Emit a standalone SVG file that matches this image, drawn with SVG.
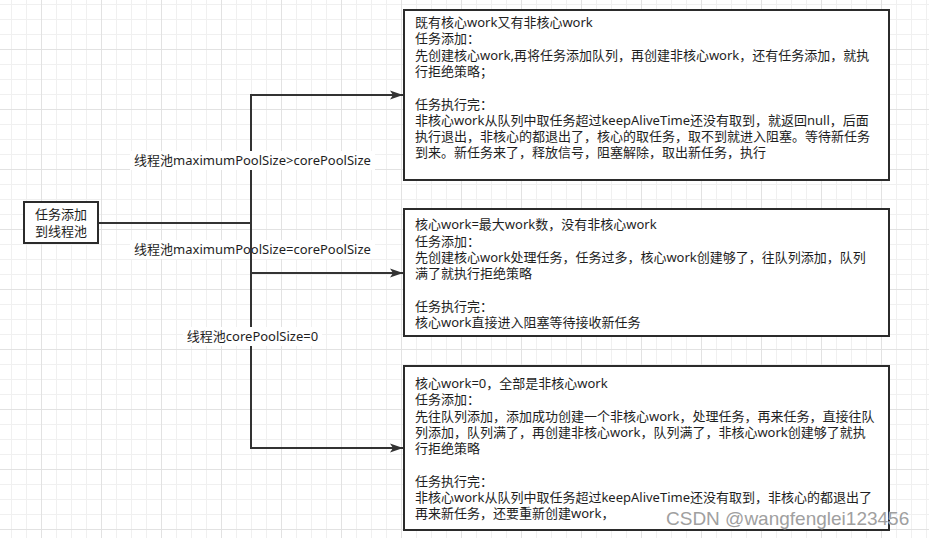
<svg xmlns="http://www.w3.org/2000/svg" width="929" height="538" viewBox="0 0 929 538">
<style>
.box{fill:#fff;stroke:#2b2b2b;stroke-width:2}
.edge{fill:none;stroke:#333;stroke-width:2}
.t{font-family:"Noto Sans","Noto Sans CJK SC",sans-serif;font-size:13px;fill:#1e1e1e}
.lbl{font-family:"Noto Sans","Noto Sans CJK SC",sans-serif;font-size:13px;fill:#1e1e1e;text-anchor:middle}
.lblbg{fill:#fff}
.wm{font-family:"Liberation Sans",Arial,sans-serif;font-size:19px;fill:#a0a0a0;stroke:#fff;stroke-width:0.6;paint-order:stroke}
</style>
<defs>
<pattern id="grid" patternUnits="userSpaceOnUse" x="41" y="49" width="60" height="60">
<rect x="0" y="15" width="60" height="1" fill="#f0f0f0"/>
<rect x="0" y="30" width="60" height="1" fill="#f0f0f0"/>
<rect x="0" y="45" width="60" height="1" fill="#f0f0f0"/>
<rect x="15" y="0" width="1" height="60" fill="#f0f0f0"/>
<rect x="30" y="0" width="1" height="60" fill="#f0f0f0"/>
<rect x="45" y="0" width="1" height="60" fill="#f0f0f0"/>
<rect x="0" y="0" width="60" height="1" fill="#e2e2e2"/>
<rect x="0" y="0" width="1" height="60" fill="#e2e2e2"/>
</pattern>
<marker id="arr" markerUnits="userSpaceOnUse" markerWidth="14" markerHeight="10" refX="13" refY="5" orient="auto">
<path d="M0,0.5 L13,5 L0,9.5 L3,5 Z" fill="#333"/>
</marker>
</defs>
<rect width="929" height="538" fill="#fff"/>
<rect width="929" height="538" fill="url(#grid)"/>

<g id="connectors">
<path class="edge" d="M98,223 H251 V95 H403" marker-end="url(#arr)"/>
<path class="edge" d="M98,223 H251 V273 H403" marker-end="url(#arr)"/>
<rect class="lblbg" x="130" y="151" width="245" height="19"/>
<text class="lbl" x="252.5" y="165">线程池maximumPoolSize&gt;corePoolSize</text>
<rect class="lblbg" x="130" y="240" width="245" height="19"/>
<text class="lbl" x="252.5" y="254">线程池maximumPoolSize=corePoolSize</text>
<path class="edge" d="M98,223 H251 V448 H403" marker-end="url(#arr)"/>
<rect class="lblbg" x="183" y="327" width="139" height="19"/>
<text class="lbl" x="252.5" y="341">线程池corePoolSize=0</text>
</g>

<g id="n-start">
<rect class="box" x="24" y="202" width="74" height="41"/>
<text class="lbl" x="61" y="219">任务添加</text>
<text class="lbl" x="61" y="235.5">到线程池</text>
</g>

<g id="n-box1">
<rect class="box" x="404" y="10" width="485" height="170"/>
<text class="t">
<tspan x="415" y="27">既有核心work又有非核心work</tspan>
<tspan x="415" y="43.3">任务添加：</tspan>
<tspan x="415" y="59.6">先创建核心work,再将任务添加队列，再创建非核心work，还有任务添加，就执</tspan>
<tspan x="415" y="75.9">行拒绝策略；</tspan>
<tspan x="415" y="108.5">任务执行完：</tspan>
<tspan x="415" y="124.8">非核心work从队列中取任务超过keepAliveTime还没有取到，就返回null，后面</tspan>
<tspan x="415" y="141.1">执行退出，非核心的都退出了，核心的取任务，取不到就进入阻塞。等待新任务</tspan>
<tspan x="415" y="157.4">到来。新任务来了，释放信号，阻塞解除，取出新任务，执行</tspan>
</text>
</g>

<g id="n-box2">
<rect class="box" x="404" y="209" width="485" height="127"/>
<text class="t">
<tspan x="415" y="229.2">核心work=最大work数，没有非核心work</tspan>
<tspan x="415" y="245.5">任务添加：</tspan>
<tspan x="415" y="261.8">先创建核心work处理任务，任务过多，核心work创建够了，往队列添加，队列</tspan>
<tspan x="415" y="278.1">满了就执行拒绝策略</tspan>
<tspan x="415" y="310.7">任务执行完：</tspan>
<tspan x="415" y="327">核心work直接进入阻塞等待接收新任务</tspan>
</text>
</g>

<g id="n-box3">
<rect class="box" x="404" y="366" width="485" height="164"/>
<text class="t">
<tspan x="415" y="388">核心work=0，全部是非核心work</tspan>
<tspan x="415" y="404.3">任务添加：</tspan>
<tspan x="415" y="420.6">先往队列添加，添加成功创建一个非核心work，处理任务，再来任务，直接往队</tspan>
<tspan x="415" y="436.9">列添加，队列满了，再创建非核心work，队列满了，非核心work创建够了就执</tspan>
<tspan x="415" y="453.2">行拒绝策略</tspan>
<tspan x="415" y="485.8">任务执行完：</tspan>
<tspan x="415" y="502.1">非核心work从队列中取任务超过keepAliveTime还没有取到，非核心的都退出了</tspan>
<tspan x="415" y="518.4">再来新任务，还要重新创建work，</tspan>
</text>
</g>

<text class="wm" x="666" y="524.5">CSDN @wangfenglei123456</text>
</svg>
